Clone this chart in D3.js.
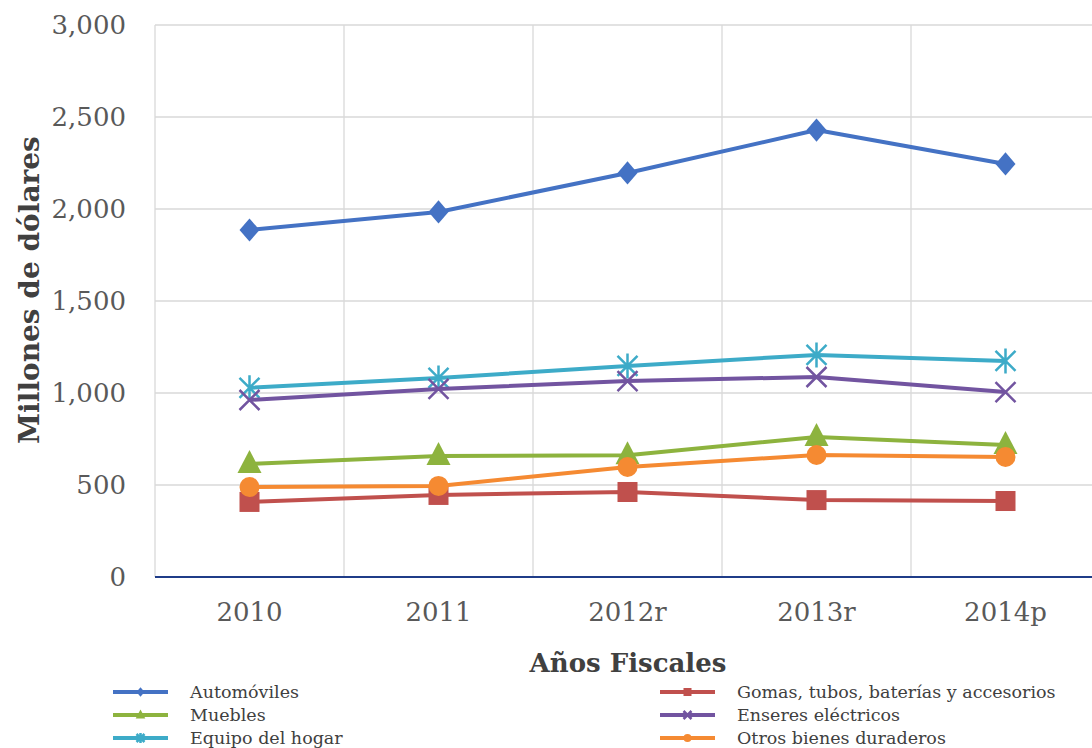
<!DOCTYPE html>
<html>
<head>
<meta charset="utf-8">
<script src="https://cdn.jsdelivr.net/npm/d3@7"></script>
<style>
  body { margin: 0; background: #fff; }
  text { font-family: "DejaVu Serif", "Liberation Serif", serif; }
</style>
</head>
<body>
<div id="chart"></div>
<script>
// Datos
var years = ["2010", "2011", "2012r", "2013r", "2014p"];
var yTicks = [0, 500, 1000, 1500, 2000, 2500, 3000];
var seriesNames = ["Automóviles", "Gomas, tubos, baterías y accesorios", "Muebles",
                   "Enseres eléctricos", "Equipo del hogar", "Otros bienes duraderos"];
var automoviles = [1886, 1984, 2196, 2429, 2245];
var gomas = [408, 446, 462, 418, 413];
var muebles = [614, 658, 662, 761, 717];
var enseres = [962, 1022, 1065, 1087, 1005];
var equipo = [1028, 1082, 1147, 1207, 1174];
var otros = [489, 495, 598, 663, 652];

var series = [
  { name: seriesNames[0], values: automoviles, color: "#4472C4", marker: "diamond" },
  { name: seriesNames[1], values: gomas, color: "#C0504D", marker: "square" },
  { name: seriesNames[2], values: muebles, color: "#8DB33E", marker: "triangle" },
  { name: seriesNames[3], values: enseres, color: "#7254A0", marker: "cross" },
  { name: seriesNames[4], values: equipo, color: "#3DABC8", marker: "asterisk" },
  { name: seriesNames[5], values: otros, color: "#F58A32", marker: "circle" }
];
// orden de dibujo
var drawOrder = [0, 2, 4, 1, 3, 5];

var svgWidth = 1092, svgHeight = 748;
var margin = { top: 25, right: -8, bottom: 171, left: 155 };
var width = svgWidth - margin.left - margin.right;
var height = svgHeight - margin.top - margin.bottom;

var svg = d3.select("#chart").append("svg")
    .attr("width", svgWidth)
    .attr("height", svgHeight);

var g = svg.append("g")
    .attr("transform", "translate(" + margin.left + "," + margin.top + ")");

var x = d3.scaleBand().domain(years).range([0, width]);
var y = d3.scaleLinear().domain([0, 3000]).range([height, 0]);

// Rejilla
g.append("g")
    .selectAll("line")
    .data(yTicks.slice(1))
    .enter().append("line")
    .attr("x1", 0).attr("x2", width)
    .attr("y1", d => y(d)).attr("y2", d => y(d))
    .attr("stroke", "#d9d9d9").attr("stroke-width", 1.3);

g.append("g")
    .selectAll("line")
    .data(years)
    .enter().append("line")
    .attr("x1", d => x(d)).attr("x2", d => x(d))
    .attr("y1", 0).attr("y2", height)
    .attr("stroke", "#d9d9d9").attr("stroke-width", 1.3);

// Eje Y
var yAxis = g.append("g")
    .call(d3.axisLeft(y).tickValues(yTicks).tickFormat(d3.format(",")).tickSize(0).tickPadding(29));
yAxis.select(".domain").remove();
yAxis.selectAll("text")
    .attr("fill", "#595959")
    .style("font-size", "26px");

// Eje X
var xAxis = g.append("g")
    .attr("transform", "translate(0," + height + ")")
    .call(d3.axisBottom(x).tickSize(0).tickPadding(26));
xAxis.select(".domain").remove();
xAxis.selectAll("text")
    .attr("fill", "#595959")
    .style("font-size", "26px");

g.append("line")
    .attr("x1", 0).attr("x2", width)
    .attr("y1", height).attr("y2", height)
    .attr("stroke", "#1F3C88").attr("stroke-width", 2.2);

// Títulos
svg.append("text")
    .attr("transform", "translate(39," + 290 + ") rotate(-90)")
    .attr("text-anchor", "middle")
    .attr("fill", "#404040")
    .style("font-size", "28px")
    .style("font-weight", "bold")
    .text("Millones de dólares");

svg.append("text")
    .attr("x", 628)
    .attr("y", 672)
    .attr("text-anchor", "middle")
    .attr("fill", "#404040")
    .style("font-size", "26px")
    .style("font-weight", "bold")
    .text("Años Fiscales");

// Marcadores
function drawMarker(sel, type, color, s) {
  if (type === "diamond") {
    var w = s * 0.5, h = s * 0.58;
    sel.append("path").attr("d", "M0," + -h + "L" + w + ",0L0," + h + "L" + -w + ",0Z")
      .attr("fill", color);
  } else if (type === "square") {
    sel.append("rect").attr("x", -s / 2).attr("y", -s / 2).attr("width", s).attr("height", s)
      .attr("fill", color);
  } else if (type === "triangle") {
    sel.append("path").attr("d", "M0," + (-s * 0.7) + "L" + (s * 0.6) + "," + (s * 0.45) + "L" + (-s * 0.6) + "," + (s * 0.45) + "Z")
      .attr("fill", color);
  } else if (type === "circle") {
    sel.append("circle").attr("r", s / 2).attr("fill", color);
  } else if (type === "cross") {
    var h1 = s / 2;
    sel.append("path").attr("d", "M" + -h1 + "," + -h1 + "L" + h1 + "," + h1 + "M" + h1 + "," + -h1 + "L" + -h1 + "," + h1)
      .attr("stroke", color).attr("stroke-width", 2.5).attr("fill", "none");
  } else if (type === "asterisk") {
    var h2 = s / 2;
    sel.append("path").attr("d", "M" + -h2 + "," + -h2 + "L" + h2 + "," + h2 + "M" + h2 + "," + -h2 + "L" + -h2 + "," + h2 + "M0," + (-h2 * 1.25) + "L0," + (h2 * 1.25))
      .attr("stroke", color).attr("stroke-width", 2.5).attr("fill", "none");
  }
}

var line = d3.line()
    .x((d, i) => x(years[i]) + x.bandwidth() / 2)
    .y(d => y(d));

drawOrder.forEach(function (k) {
  var s = series[k];
  g.append("path")
    .datum(s.values)
    .attr("d", line)
    .attr("fill", "none")
    .attr("stroke", s.color)
    .attr("stroke-width", 4)
    .attr("stroke-linejoin", "round");
  s.values.forEach(function (v, i) {
    var m = g.append("g")
      .attr("transform", "translate(" + (x(years[i]) + x.bandwidth() / 2) + "," + y(v) + ")");
    drawMarker(m, s.marker, s.color, 20);
  });
});

// Leyenda
var legendPos = [
  { x: 113, y: 692 }, { x: 660, y: 692 },
  { x: 113, y: 715 }, { x: 660, y: 715 },
  { x: 113, y: 738 }, { x: 660, y: 738 }
];
var legendItems = [0, 1, 2, 3, 4, 5];
legendItems.forEach(function (k, j) {
  var s = series[k];
  var p = legendPos[j];
  var lg = svg.append("g").attr("transform", "translate(" + p.x + "," + p.y + ")");
  lg.append("line").attr("x1", 0).attr("x2", 55).attr("y1", 0).attr("y2", 0)
    .attr("stroke", s.color).attr("stroke-width", 4);
  var m = lg.append("g").attr("transform", "translate(27.5,0)");
  drawMarker(m, s.marker, s.color, 8);
  lg.append("text")
    .attr("x", 77).attr("y", 0).attr("dy", "0.33em")
    .attr("fill", "#404040")
    .style("font-size", "17.5px")
    .text(s.name);
});
</script>
</body>
</html>
